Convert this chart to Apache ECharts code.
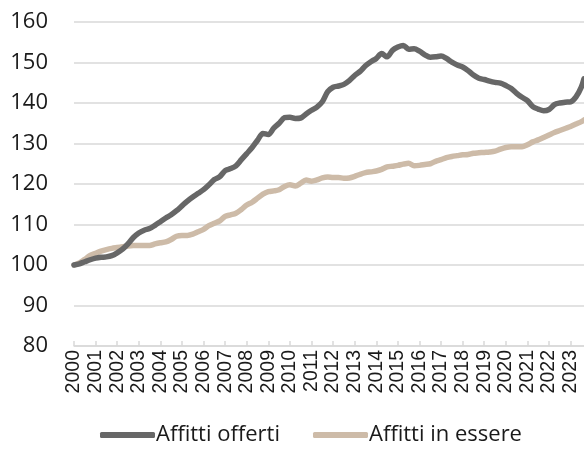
<!DOCTYPE html>
<html>
<head>
<meta charset="utf-8">
<script src="https://cdn.jsdelivr.net/npm/echarts@6/dist/echarts.min.js"></script>
<style>
  html, body { margin: 0; padding: 0; background: #fff; }
  #chart { width: 584px; height: 461px; }
</style>
</head>
<body>
<div id="chart"></div>
<script>
// Quarterly time points (decimal years) and the two rent indices (2000 = 100)
const periods = [
  2000.00, 2000.25, 2000.50, 2000.75, 2001.00, 2001.25, 2001.50, 2001.75,
  2002.00, 2002.25, 2002.50, 2002.75, 2003.00, 2003.25, 2003.50, 2003.75,
  2004.00, 2004.25, 2004.50, 2004.75, 2005.00, 2005.25, 2005.50, 2005.75,
  2006.00, 2006.25, 2006.50, 2006.75, 2007.00, 2007.25, 2007.50, 2007.75,
  2008.00, 2008.25, 2008.50, 2008.75, 2009.00, 2009.25, 2009.50, 2009.75,
  2010.00, 2010.25, 2010.50, 2010.75, 2011.00, 2011.25, 2011.50, 2011.75,
  2012.00, 2012.25, 2012.50, 2012.75, 2013.00, 2013.25, 2013.50, 2013.75,
  2014.00, 2014.25, 2014.50, 2014.75, 2015.00, 2015.25, 2015.50, 2015.75,
  2016.00, 2016.25, 2016.50, 2016.75, 2017.00, 2017.25, 2017.50, 2017.75,
  2018.00, 2018.25, 2018.50, 2018.75, 2019.00, 2019.25, 2019.50, 2019.75,
  2020.00, 2020.25, 2020.50, 2020.75, 2021.00, 2021.25, 2021.50, 2021.75,
  2022.00, 2022.25, 2022.50, 2022.75, 2023.00, 2023.25, 2023.50, 2023.62
];

const affittiOfferti = [
  100.0, 100.3, 100.8, 101.3, 101.7, 101.9, 102.0, 102.3,
  103.0, 103.9, 105.2, 106.8, 107.9, 108.6, 109.0, 109.8,
  110.7, 111.6, 112.4, 113.4, 114.6, 115.8, 116.8, 117.7,
  118.6, 119.8, 121.1, 121.8, 123.3, 123.8, 124.5, 126.0,
  127.5, 129.0, 130.8, 132.5, 132.2, 133.8, 135.0, 136.4,
  136.5, 136.2, 136.3, 137.3, 138.2, 139.0, 140.3, 142.8,
  143.9, 144.2, 144.6, 145.5, 146.8, 147.8, 149.2, 150.2,
  151.0, 152.2, 151.4, 153.0, 153.8, 154.2, 153.3, 153.4,
  152.8, 151.9, 151.3, 151.4, 151.6, 151.0, 150.1, 149.4,
  148.9, 148.0, 146.9, 146.1, 145.8, 145.4, 145.1, 144.9,
  144.3, 143.6, 142.4, 141.4, 140.6, 139.1, 138.5, 138.1,
  138.4, 139.6, 140.0, 140.2, 140.3, 141.5, 144.0, 146.0
];

const affittiInEssere = [
  100.0, 100.5, 101.4, 102.4, 102.9, 103.4, 103.8, 104.1,
  104.3, 104.5, 104.7, 104.8, 104.8, 104.8, 104.8, 105.2,
  105.5, 105.7, 106.3, 107.1, 107.3, 107.3, 107.6, 108.2,
  108.8, 109.7, 110.3, 110.9, 112.0, 112.4, 112.8, 113.7,
  114.8, 115.5, 116.5, 117.5, 118.1, 118.3, 118.6, 119.4,
  119.8, 119.5, 120.2, 121.0, 120.7, 121.0, 121.5, 121.7,
  121.6, 121.6, 121.4, 121.5, 121.9, 122.4, 122.8, 123.0,
  123.2, 123.6, 124.2, 124.4, 124.6, 124.9, 125.1, 124.5,
  124.6, 124.8, 125.0, 125.6, 126.0, 126.5, 126.8, 127.0,
  127.2, 127.3, 127.6, 127.7, 127.8, 127.9, 128.1, 128.6,
  129.0, 129.2, 129.2, 129.2, 129.7, 130.4, 130.9, 131.5,
  132.1, 132.7, 133.2, 133.7, 134.2, 134.8, 135.4, 135.8
];

// Year ticks shown on the horizontal axis
const yearTicks = [];
for (let y = 2000; y <= 2023; y++) yearTicks.push(y);

const seriesNames = ['Affitti offerti', 'Affitti in essere'];
const seriesColors = ['#676767', '#cdbba8'];

const pairs = vals => periods.map((p, i) => [p, vals[i]]);

const chart = echarts.init(document.getElementById('chart'), null, { renderer: 'canvas' });

chart.setOption({
  animation: false,
  backgroundColor: '#ffffff',
  grid: { left: 74, right: 0, top: 22, bottom: 115, containLabel: false },
  legend: {
    bottom: 10,
    left: 95,
    itemGap: 33,
    itemWidth: 55,
    itemHeight: 6,
    icon: 'roundRect',
    textStyle: { fontFamily: 'Open Sans', fontSize: 22, color: '#1a1a1a', padding: [0, 0, 0, -4] },
    data: seriesNames
  },
  xAxis: {
    type: 'value',
    min: 2000,
    max: 2023.62,
    interval: 1,
    splitLine: { show: false },
    axisLine: { show: true, onZero: false, lineStyle: { color: '#d9d9d9', width: 1.5 } },
    axisTick: { show: true, inside: true, length: 5, customValues: yearTicks, lineStyle: { color: '#d9d9d9', width: 1.5 } },
    axisLabel: {
      customValues: yearTicks,
      rotate: 90,
      margin: 4,
      fontFamily: 'Liberation Sans',
      fontSize: 19.5,
      color: '#1a1a1a',
      formatter: v => String(Math.round(v))
    }
  },
  yAxis: {
    type: 'value',
    min: 80,
    max: 160,
    interval: 10,
    axisLine: { show: false },
    axisTick: { show: false },
    splitLine: { lineStyle: { color: '#d9d9d9', width: 1.5 } },
    axisLabel: { margin: 26, fontFamily: 'Open Sans', fontSize: 22, color: '#1a1a1a' }
  },
  series: [
    {
      name: seriesNames[1], type: 'line', data: pairs(affittiInEssere),
      showSymbol: false, symbol: 'none', smooth: 0.3,
      lineStyle: { color: seriesColors[1], width: 5.5, cap: 'round', join: 'round' },
      itemStyle: { color: seriesColors[1] }, z: 2
    },
    {
      name: seriesNames[0], type: 'line', data: pairs(affittiOfferti),
      showSymbol: false, symbol: 'none', smooth: 0.3,
      lineStyle: { color: seriesColors[0], width: 5.5, cap: 'round', join: 'round' },
      itemStyle: { color: seriesColors[0] }, z: 3
    }
  ]
});
</script>
</body>
</html>
